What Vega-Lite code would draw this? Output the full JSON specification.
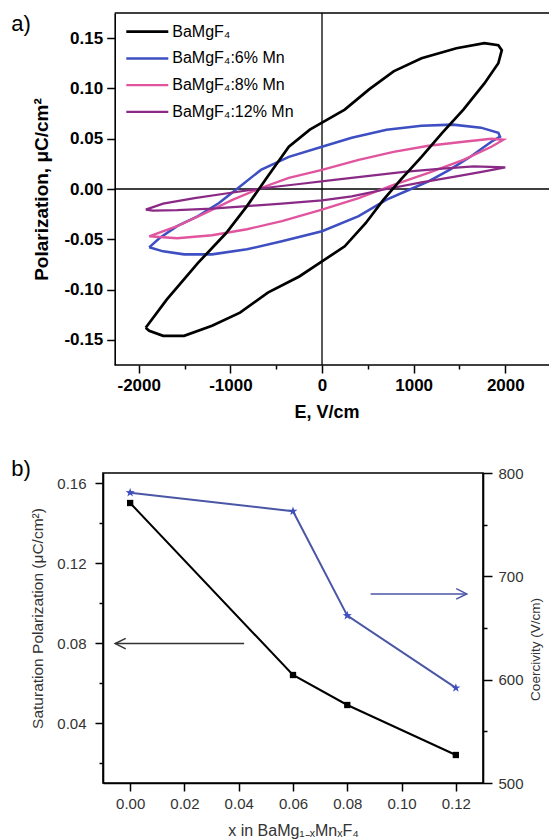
{
  "$schema": "https://vega.github.io/schema/vega-lite/v6.json",
  "background": "white",
  "padding": {"left": 10, "top": 12, "right": 0, "bottom": 0},
  "autosize": {"type": "pad"},
  "config": {
    "font": "Liberation Sans",
    "view": {"stroke": "black", "strokeWidth": 1.6},
    "axis": {"grid": false, "domainColor": "black", "tickColor": "black", "domainWidth": 1.6, "tickWidth": 1.5, "labelFlush": false, "labelOverlap": false}
  },
  "datasets": {
    "loops": [
      {"s":"BaMgF₄:6% Mn","i":0,"E":-1886,"P":-0.058},{"s":"BaMgF₄:6% Mn","i":1,"E":-1772,"P":-0.0487},{"s":"BaMgF₄:6% Mn","i":2,"E":-1581,"P":-0.037},{"s":"BaMgF₄:6% Mn","i":3,"E":-1353,"P":-0.027},{"s":"BaMgF₄:6% Mn","i":4,"E":-1124,"P":-0.014},{"s":"BaMgF₄:6% Mn","i":5,"E":-895,"P":0.0026},{"s":"BaMgF₄:6% Mn","i":6,"E":-667,"P":0.019},{"s":"BaMgF₄:6% Mn","i":7,"E":-362,"P":0.032},{"s":"BaMgF₄:6% Mn","i":8,"E":0,"P":0.042},{"s":"BaMgF₄:6% Mn","i":9,"E":324,"P":0.051},{"s":"BaMgF₄:6% Mn","i":10,"E":705,"P":0.059},{"s":"BaMgF₄:6% Mn","i":11,"E":1086,"P":0.063},{"s":"BaMgF₄:6% Mn","i":12,"E":1429,"P":0.064},{"s":"BaMgF₄:6% Mn","i":13,"E":1734,"P":0.061},{"s":"BaMgF₄:6% Mn","i":14,"E":1924,"P":0.056},{"s":"BaMgF₄:6% Mn","i":15,"E":1943,"P":0.052},{"s":"BaMgF₄:6% Mn","i":16,"E":1848,"P":0.047},{"s":"BaMgF₄:6% Mn","i":17,"E":1619,"P":0.032},{"s":"BaMgF₄:6% Mn","i":18,"E":1391,"P":0.019},{"s":"BaMgF₄:6% Mn","i":19,"E":1162,"P":0.0076},{"s":"BaMgF₄:6% Mn","i":20,"E":971,"P":0.0},{"s":"BaMgF₄:6% Mn","i":21,"E":705,"P":-0.0106},{"s":"BaMgF₄:6% Mn","i":22,"E":400,"P":-0.027},{"s":"BaMgF₄:6% Mn","i":23,"E":0,"P":-0.042},{"s":"BaMgF₄:6% Mn","i":24,"E":-438,"P":-0.052},{"s":"BaMgF₄:6% Mn","i":25,"E":-819,"P":-0.060},{"s":"BaMgF₄:6% Mn","i":26,"E":-1200,"P":-0.065},{"s":"BaMgF₄:6% Mn","i":27,"E":-1505,"P":-0.065},{"s":"BaMgF₄:6% Mn","i":28,"E":-1734,"P":-0.062},{"s":"BaMgF₄:6% Mn","i":29,"E":-1886,"P":-0.058},
      {"s":"BaMgF₄:8% Mn","i":0,"E":-1886,"P":-0.047},{"s":"BaMgF₄:8% Mn","i":1,"E":-1581,"P":-0.037},{"s":"BaMgF₄:8% Mn","i":2,"E":-1276,"P":-0.024},{"s":"BaMgF₄:8% Mn","i":3,"E":-972,"P":-0.0106},{"s":"BaMgF₄:8% Mn","i":4,"E":-667,"P":0.001},{"s":"BaMgF₄:8% Mn","i":5,"E":-362,"P":0.011},{"s":"BaMgF₄:8% Mn","i":6,"E":0,"P":0.019},{"s":"BaMgF₄:8% Mn","i":7,"E":400,"P":0.029},{"s":"BaMgF₄:8% Mn","i":8,"E":781,"P":0.037},{"s":"BaMgF₄:8% Mn","i":9,"E":1162,"P":0.043},{"s":"BaMgF₄:8% Mn","i":10,"E":1543,"P":0.047},{"s":"BaMgF₄:8% Mn","i":11,"E":1848,"P":0.050},{"s":"BaMgF₄:8% Mn","i":12,"E":1981,"P":0.049},{"s":"BaMgF₄:8% Mn","i":13,"E":1848,"P":0.042},{"s":"BaMgF₄:8% Mn","i":14,"E":1543,"P":0.029},{"s":"BaMgF₄:8% Mn","i":15,"E":1162,"P":0.016},{"s":"BaMgF₄:8% Mn","i":16,"E":781,"P":0.004},{"s":"BaMgF₄:8% Mn","i":17,"E":400,"P":-0.009},{"s":"BaMgF₄:8% Mn","i":18,"E":0,"P":-0.0205},{"s":"BaMgF₄:8% Mn","i":19,"E":-438,"P":-0.032},{"s":"BaMgF₄:8% Mn","i":20,"E":-819,"P":-0.040},{"s":"BaMgF₄:8% Mn","i":21,"E":-1200,"P":-0.046},{"s":"BaMgF₄:8% Mn","i":22,"E":-1581,"P":-0.049},{"s":"BaMgF₄:8% Mn","i":23,"E":-1886,"P":-0.047},
      {"s":"BaMgF₄:12% Mn","i":0,"E":-1924,"P":-0.0205},{"s":"BaMgF₄:12% Mn","i":1,"E":-1734,"P":-0.0146},{"s":"BaMgF₄:12% Mn","i":2,"E":-1391,"P":-0.009},{"s":"BaMgF₄:12% Mn","i":3,"E":-1010,"P":-0.004},{"s":"BaMgF₄:12% Mn","i":4,"E":-629,"P":0.001},{"s":"BaMgF₄:12% Mn","i":5,"E":-248,"P":0.005},{"s":"BaMgF₄:12% Mn","i":6,"E":133,"P":0.009},{"s":"BaMgF₄:12% Mn","i":7,"E":514,"P":0.013},{"s":"BaMgF₄:12% Mn","i":8,"E":895,"P":0.017},{"s":"BaMgF₄:12% Mn","i":9,"E":1276,"P":0.020},{"s":"BaMgF₄:12% Mn","i":10,"E":1657,"P":0.0225},{"s":"BaMgF₄:12% Mn","i":11,"E":2000,"P":0.0215},{"s":"BaMgF₄:12% Mn","i":12,"E":1772,"P":0.0175},{"s":"BaMgF₄:12% Mn","i":13,"E":1467,"P":0.0126},{"s":"BaMgF₄:12% Mn","i":14,"E":1086,"P":0.0066},{"s":"BaMgF₄:12% Mn","i":15,"E":705,"P":0.0},{"s":"BaMgF₄:12% Mn","i":16,"E":324,"P":-0.0073},{"s":"BaMgF₄:12% Mn","i":17,"E":0,"P":-0.0113},{"s":"BaMgF₄:12% Mn","i":18,"E":-438,"P":-0.0146},{"s":"BaMgF₄:12% Mn","i":19,"E":-819,"P":-0.017},{"s":"BaMgF₄:12% Mn","i":20,"E":-1200,"P":-0.0195},{"s":"BaMgF₄:12% Mn","i":21,"E":-1581,"P":-0.021},{"s":"BaMgF₄:12% Mn","i":22,"E":-1848,"P":-0.0215},{"s":"BaMgF₄:12% Mn","i":23,"E":-1924,"P":-0.0205},
      {"s":"BaMgF₄","i":0,"E":-1924,"P":-0.138},{"s":"BaMgF₄","i":1,"E":-1695,"P":-0.110},{"s":"BaMgF₄","i":2,"E":-1353,"P":-0.0735},{"s":"BaMgF₄","i":3,"E":-1048,"P":-0.044},{"s":"BaMgF₄","i":4,"E":-819,"P":-0.017},{"s":"BaMgF₄","i":5,"E":-591,"P":0.0126},{"s":"BaMgF₄","i":6,"E":-362,"P":0.042},{"s":"BaMgF₄","i":7,"E":-133,"P":0.059},{"s":"BaMgF₄","i":8,"E":0,"P":0.066},{"s":"BaMgF₄","i":9,"E":248,"P":0.079},{"s":"BaMgF₄","i":10,"E":514,"P":0.099},{"s":"BaMgF₄","i":11,"E":781,"P":0.117},{"s":"BaMgF₄","i":12,"E":1086,"P":0.130},{"s":"BaMgF₄","i":13,"E":1467,"P":0.140},{"s":"BaMgF₄","i":14,"E":1772,"P":0.145},{"s":"BaMgF₄","i":15,"E":1924,"P":0.143},{"s":"BaMgF₄","i":16,"E":1962,"P":0.138},{"s":"BaMgF₄","i":17,"E":1924,"P":0.125},{"s":"BaMgF₄","i":18,"E":1772,"P":0.105},{"s":"BaMgF₄","i":19,"E":1543,"P":0.079},{"s":"BaMgF₄","i":20,"E":1314,"P":0.056},{"s":"BaMgF₄","i":21,"E":1086,"P":0.032},{"s":"BaMgF₄","i":22,"E":857,"P":0.009},{"s":"BaMgF₄","i":23,"E":667,"P":-0.011},{"s":"BaMgF₄","i":24,"E":476,"P":-0.034},{"s":"BaMgF₄","i":25,"E":248,"P":-0.057},{"s":"BaMgF₄","i":26,"E":0,"P":-0.072},{"s":"BaMgF₄","i":27,"E":-248,"P":-0.087},{"s":"BaMgF₄","i":28,"E":-591,"P":-0.103},{"s":"BaMgF₄","i":29,"E":-895,"P":-0.123},{"s":"BaMgF₄","i":30,"E":-1200,"P":-0.136},{"s":"BaMgF₄","i":31,"E":-1505,"P":-0.146},{"s":"BaMgF₄","i":32,"E":-1734,"P":-0.146},{"s":"BaMgF₄","i":33,"E":-1886,"P":-0.141},{"s":"BaMgF₄","i":34,"E":-1924,"P":-0.138}
    ],
    "sat": [
      {"x": 0.0, "p": 0.150}, {"x": 0.06, "p": 0.064}, {"x": 0.08, "p": 0.049}, {"x": 0.12, "p": 0.024}
    ],
    "coer": [
      {"x": 0.0, "c": 781}, {"x": 0.06, "c": 763}, {"x": 0.08, "c": 662}, {"x": 0.12, "c": 592}
    ],
    "arrowSat": [{"x": 0.042, "x2": -0.0055, "y": 0.0797}],
    "arrowCoer": [{"x": 0.0886, "x2": 0.124, "y": 683}]
  },
  "concat": [
    {
      "width": 447,
      "height": 352,
      "view": {"stroke": null},
      "layer": [
        {
          "data": {"values": [{}]},
          "mark": {"type": "rule", "color": "black", "strokeWidth": 1.3},
          "encoding": {"x": {"datum": 0, "type": "quantitative", "scale": {"domain": [-2390, 2488], "nice": false, "zero": false}}}
        },
        {
          "data": {"values": [{}]},
          "mark": {"type": "rule", "color": "black", "strokeWidth": 1.3},
          "encoding": {
            "x": {"datum": -2262, "type": "quantitative", "scale": {"domain": [-2390, 2488], "nice": false, "zero": false}},
            "x2": {"datum": 2488},
            "y": {"datum": 0, "type": "quantitative", "scale": {"domain": [-0.175, 0.175], "nice": false, "zero": false}}
          }
        },
        {
          "data": {"values": [{"yy": 0.175}, {"yy": -0.175}]},
          "mark": {"type": "rule", "color": "black", "strokeWidth": 1.6},
          "encoding": {
            "x": {"datum": -2262, "type": "quantitative", "scale": {"domain": [-2390, 2488], "nice": false, "zero": false}},
            "x2": {"datum": 2488},
            "y": {"field": "yy", "type": "quantitative", "scale": {"domain": [-0.175, 0.175], "nice": false, "zero": false}}
          }
        },
        {
          "data": {"values": [{}]},
          "mark": {"type": "rule", "color": "black", "strokeWidth": 1.6},
          "encoding": {
            "x": {"datum": 2488, "type": "quantitative", "scale": {"domain": [-2390, 2488], "nice": false, "zero": false}},
            "y": {"datum": -0.175, "type": "quantitative", "scale": {"domain": [-0.175, 0.175], "nice": false, "zero": false}},
            "y2": {"datum": 0.175}
          }
        },
        {
          "data": {"name": "loops"},
          "mark": {"type": "line", "clip": true},
          "encoding": {
            "x": {
              "field": "E", "type": "quantitative",
              "scale": {"domain": [-2390, 2488], "nice": false, "zero": false},
              "axis": {
                "values": [-2000, -1500, -1000, -500, 0, 500, 1000, 1500, 2000],
                "format": "d",
                "domain": false,
                "labelOverlap": false,
                "labelExpr": "datum.value % 1000 === 0 ? replace(datum.label, '−', '-') : ''",
                "tickSize": {"condition": {"test": "datum.value % 1000 === 0", "value": 8}, "value": 4},
                "labelFontSize": 17, "labelFontWeight": "bold", "labelColor": "black", "labelPadding": 4,
                "title": "E, V/cm", "titleFontSize": 18, "titleFontWeight": "bold", "titleColor": "black", "titlePadding": 10
              }
            },
            "y": {
              "field": "P", "type": "quantitative",
              "scale": {"domain": [-0.175, 0.175], "nice": false, "zero": false},
              "axis": {
                "offset": -11.7,
                "values": [-0.15, -0.125, -0.1, -0.075, -0.05, -0.025, 0, 0.025, 0.05, 0.075, 0.1, 0.125, 0.15],
                "format": ".2f",
                "labelOverlap": false,
                "labelExpr": "abs(round(datum.value*1000)) % 50 === 0 ? replace(datum.label, '−', '-') : ''",
                "tickSize": {"condition": {"test": "abs(round(datum.value*1000)) % 50 === 0", "value": 8}, "value": 4},
                "labelFontSize": 17, "labelFontWeight": "bold", "labelColor": "black", "labelPadding": 4,
                "title": "Polarization, μC/cm²", "titleFontSize": 19, "titleFontWeight": "bold", "titleColor": "black", "titlePadding": 12
              }
            },
            "color": {
              "field": "s", "type": "nominal",
              "scale": {"domain": ["BaMgF₄", "BaMgF₄:6% Mn", "BaMgF₄:8% Mn", "BaMgF₄:12% Mn"], "range": ["#000000", "#3d4fc2", "#e0559e", "#8a2a86"]},
              "legend": {
                "orient": "none", "legendX": 26.3, "legendY": 10.7, "title": null, "padding": 0,
                "symbolType": "M-4.2,0H4.2", "symbolSize": 100, "symbolStrokeWidth": 2.5, "symbolOffset": 10,
                "labelOffset": 17, "labelFontSize": 16, "labelColor": "black", "labelLimit": 300, "rowPadding": 10.7
              }
            },
            "strokeWidth": {
              "field": "s", "type": "nominal",
              "scale": {"domain": ["BaMgF₄", "BaMgF₄:6% Mn", "BaMgF₄:8% Mn", "BaMgF₄:12% Mn"], "range": [2.7, 2.2, 2.2, 2.2]},
              "legend": null
            },
            "order": {"field": "i", "type": "quantitative"}
          }
        },
        {
          "data": {"values": [{}]},
          "mark": {"type": "text", "fontSize": 22, "align": "left", "baseline": "middle", "color": "black"},
          "encoding": {
            "x": {"datum": -3390, "type": "quantitative", "scale": {"domain": [-2390, 2488], "nice": false, "zero": false}},
            "y": {"datum": 0.1644, "type": "quantitative", "scale": {"domain": [-0.175, 0.175], "nice": false, "zero": false}},
            "text": {"value": "a)"}
          }
        }
      ]
    },
    {
      "width": 380,
      "height": 310,
      "layer": [
        {
          "layer": [
            {
              "data": {"name": "sat"},
              "mark": {"type": "line", "color": "black", "strokeWidth": 2},
              "encoding": {
                "x": {
                  "field": "x", "type": "quantitative",
                  "scale": {"domain": [-0.01, 0.13], "nice": false, "zero": false},
                  "axis": {
                    "values": [0, 0.01, 0.02, 0.03, 0.04, 0.05, 0.06, 0.07, 0.08, 0.09, 0.1, 0.11, 0.12],
                    "format": ".2f",
                    "labelOverlap": false,
                    "labelExpr": "abs(round(datum.value*100)) % 2 === 0 ? datum.label : ''",
                    "tickSize": {"condition": {"test": "abs(round(datum.value*100)) % 2 === 0", "value": 8}, "value": 4},
                    "labelFontSize": 15, "labelColor": "#333333", "labelPadding": 5,
                    "title": "x in BaMg₁₋ₓMnₓF₄", "titleFontSize": 16, "titleFontWeight": "normal", "titleColor": "#333333", "titlePadding": 11
                  }
                },
                "y": {
                  "field": "p", "type": "quantitative",
                  "scale": {"domain": [0.01, 0.165], "nice": false, "zero": false},
                  "axis": {
                    "values": [0.16, 0.14, 0.12, 0.1, 0.08, 0.06, 0.04, 0.02],
                    "format": ".2f",
                    "labelOverlap": false,
                    "labelExpr": "round(datum.value*100) % 4 === 0 ? datum.label : ''",
                    "tickSize": {"condition": {"test": "round(datum.value*100) % 4 === 0", "value": 8}, "value": 4},
                    "labelFontSize": 15, "labelColor": "#333333", "labelPadding": 9,
                    "title": "Saturation Polarization (μC/cm²)", "titleFontSize": 15.5, "titleFontWeight": "normal", "titleColor": "#333333", "titlePadding": 11, "titleY": 145
                  }
                }
              }
            },
            {
              "data": {"name": "sat"},
              "mark": {"type": "point", "shape": "square", "filled": true, "color": "black", "size": 40, "opacity": 1},
              "encoding": {
                "x": {"field": "x", "type": "quantitative", "scale": {"domain": [-0.01, 0.13], "nice": false, "zero": false}},
                "y": {"field": "p", "type": "quantitative", "scale": {"domain": [0.01, 0.165], "nice": false, "zero": false}}
              }
            },
            {
              "data": {"name": "arrowSat"},
              "mark": {"type": "rule", "color": "#333333", "strokeWidth": 1.5},
              "encoding": {
                "x": {"field": "x", "type": "quantitative", "scale": {"domain": [-0.01, 0.13], "nice": false, "zero": false}},
                "x2": {"field": "x2"},
                "y": {"field": "y", "type": "quantitative", "scale": {"domain": [0.01, 0.165], "nice": false, "zero": false}}
              }
            },
            {
              "data": {"name": "arrowSat"},
              "mark": {"type": "point", "shape": "M2,-1L0,0L2,1", "filled": false, "color": "#333333", "size": 110, "strokeWidth": 1.5, "opacity": 1},
              "encoding": {
                "x": {"field": "x2", "type": "quantitative", "scale": {"domain": [-0.01, 0.13], "nice": false, "zero": false}},
                "y": {"field": "y", "type": "quantitative", "scale": {"domain": [0.01, 0.165], "nice": false, "zero": false}}
              }
            },
            {
              "data": {"values": [{}]},
              "mark": {"type": "text", "fontSize": 22, "align": "left", "baseline": "middle", "color": "black"},
              "encoding": {
                "x": {"datum": -0.0438, "type": "quantitative", "scale": {"domain": [-0.01, 0.13], "nice": false, "zero": false}},
                "y": {"datum": 0.1672, "type": "quantitative", "scale": {"domain": [0.01, 0.165], "nice": false, "zero": false}},
                "text": {"value": "b)"}
              }
            }
          ]
        },
        {
          "layer": [
            {
              "data": {"name": "coer"},
              "mark": {"type": "line", "color": "#4a56a6", "strokeWidth": 2},
              "encoding": {
                "x": {
                  "field": "x", "type": "quantitative",
                  "scale": {"domain": [-0.01, 0.13], "nice": false, "zero": false},
                  "axis": {
                    "values": [0, 0.01, 0.02, 0.03, 0.04, 0.05, 0.06, 0.07, 0.08, 0.09, 0.1, 0.11, 0.12],
                    "format": ".2f",
                    "labelOverlap": false,
                    "labelExpr": "abs(round(datum.value*100)) % 2 === 0 ? datum.label : ''",
                    "tickSize": {"condition": {"test": "abs(round(datum.value*100)) % 2 === 0", "value": 8}, "value": 4},
                    "labelFontSize": 15, "labelColor": "#333333", "labelPadding": 5,
                    "title": "x in BaMg₁₋ₓMnₓF₄", "titleFontSize": 16, "titleFontWeight": "normal", "titleColor": "#333333", "titlePadding": 11
                  }
                },
                "y": {
                  "field": "c", "type": "quantitative",
                  "scale": {"domain": [500, 800], "nice": false, "zero": false},
                  "axis": {
                    "orient": "right",
                    "values": [800, 750, 700, 650, 600, 550, 500],
                    "format": "d",
                    "labelOverlap": false,
                    "labelExpr": "datum.value % 100 === 0 ? datum.label : ''",
                    "tickSize": {"condition": {"test": "datum.value % 100 === 0", "value": 9}, "value": 4},
                    "labelFontSize": 15, "labelColor": "#333333", "labelPadding": 6,
                    "title": "Coercivity (V/cm)", "titleFontSize": 13.5, "titleFontWeight": "normal", "titleColor": "#333333", "titlePadding": 5, "titleAngle": 270, "titleBaseline": "top", "titleY": 176
                  }
                }
              }
            },
            {
              "data": {"name": "coer"},
              "mark": {"type": "point", "shape": "M0,-1L0.235,-0.324L0.951,-0.309L0.38,0.124L0.588,0.809L0,0.4L-0.588,0.809L-0.38,0.124L-0.951,-0.309L-0.235,-0.324Z", "filled": true, "color": "#3f4fbf", "size": 90, "opacity": 1},
              "encoding": {
                "x": {"field": "x", "type": "quantitative", "scale": {"domain": [-0.01, 0.13], "nice": false, "zero": false}},
                "y": {"field": "c", "type": "quantitative", "scale": {"domain": [500, 800], "nice": false, "zero": false}}
              }
            },
            {
              "data": {"name": "arrowCoer"},
              "mark": {"type": "rule", "color": "#4a56a6", "strokeWidth": 1.5},
              "encoding": {
                "x": {"field": "x", "type": "quantitative", "scale": {"domain": [-0.01, 0.13], "nice": false, "zero": false}},
                "x2": {"field": "x2"},
                "y": {"field": "y", "type": "quantitative", "scale": {"domain": [500, 800], "nice": false, "zero": false}}
              }
            },
            {
              "data": {"name": "arrowCoer"},
              "mark": {"type": "point", "shape": "M-2,-1L0,0L-2,1", "filled": false, "color": "#4a56a6", "size": 110, "strokeWidth": 1.5, "opacity": 1},
              "encoding": {
                "x": {"field": "x2", "type": "quantitative", "scale": {"domain": [-0.01, 0.13], "nice": false, "zero": false}},
                "y": {"field": "y", "type": "quantitative", "scale": {"domain": [500, 800], "nice": false, "zero": false}}
              }
            }
          ]
        }
      ],
      "resolve": {"scale": {"y": "independent"}}
    }
  ],
  "columns": 1,
  "align": "none",
  "spacing": 35,
  "bounds": "full"
}
